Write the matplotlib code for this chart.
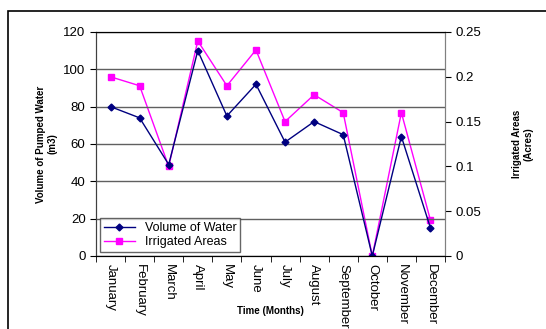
import matplotlib.pyplot as plt
import numpy as np
from matplotlib.patches import Rectangle

plt.rcParams['font.family'] = ['Liberation Sans', 'DejaVu Sans']

months = ['January', 'February', 'March', 'April', 'May', 'June', 'July',
          'August', 'September', 'October', 'November', 'December']
volume = [80, 74, 49, 110, 75, 92, 61, 72, 65, 0, 64, 15]
irrigated = [0.20, 0.19, 0.10, 0.24, 0.19, 0.23, 0.15, 0.18, 0.16, 0, 0.16, 0.04]

fig = plt.figure(figsize=(5.46, 3.29), dpi=100)
fig.patches.append(Rectangle((8 / 546, -0.1), 1.0, 1 - 11 / 329 + 0.1,
                             transform=fig.transFigure, fill=False,
                             edgecolor='black', linewidth=1.2))

ax = fig.add_axes([96 / 546, 1 - 256 / 329, 349 / 546, 224 / 329])
ax2 = ax.twinx()

x = np.arange(len(months))
l1, = ax.plot(x, volume, color='#000080', marker='D', markersize=3.5, linewidth=1,
              label='Volume of Water')
l2, = ax2.plot(x, irrigated, color='#FF00FF', marker='s', markersize=5, linewidth=1,
               label='Irrigated Areas')

ax.set_xlim(-0.5, 11.5)
ax.set_ylim(0, 120)
ax.set_yticks(np.arange(0, 121, 20))
ax2.set_ylim(0, 0.25)
ax2.set_yticks([0, 0.05, 0.1, 0.15, 0.2, 0.25])
ax2.set_yticklabels(['0', '0.05', '0.1', '0.15', '0.2', '0.25'])

ax.yaxis.grid(True, color='#606060', linewidth=1)
ax.set_axisbelow(True)

ax.set_xticks(x)
ax.set_xticklabels(months, rotation=270, fontsize=9.5)
ax.tick_params(axis='x', length=0, pad=6)
ax.set_xticks(np.arange(-0.5, 12, 1), minor=True)
ax.tick_params(axis='x', which='minor', length=4, direction='out')
ax.tick_params(axis='y', labelsize=9.5, length=4)
ax2.tick_params(axis='y', labelsize=9.5, length=4)

for a in (ax, ax2):
    a.spines['left'].set_color('#404040')
    a.spines['right'].set_color('#808080')
    a.spines['top'].set_color('black')
    a.spines['bottom'].set_color('black')

ax.set_ylabel('Volume of Pumped Water\n(m3)', fontsize=7, fontweight='bold')
ax2.set_ylabel('Irrigated Areas\n(Acres)', fontsize=7, fontweight='bold',
               rotation=90, va='center')
ax2.yaxis.set_label_coords(1.223, 0.5)
ax.set_xlabel('Time (Months)', fontsize=7, fontweight='bold', va='center')
ax.xaxis.set_label_coords(0.5, -0.245)

leg = ax.legend([l1, l2], ['Volume of Water', 'Irrigated Areas'], loc='lower left',
                fontsize=9, frameon=True, fancybox=False, edgecolor='#404040',
                borderaxespad=0.3, handlelength=2.5, borderpad=0.3, labelspacing=0.2)
leg.get_frame().set_linewidth(1)
ax2.set_zorder(1)
ax.set_zorder(2)
ax.patch.set_visible(False)

fig.savefig('out.png', dpi=100)
